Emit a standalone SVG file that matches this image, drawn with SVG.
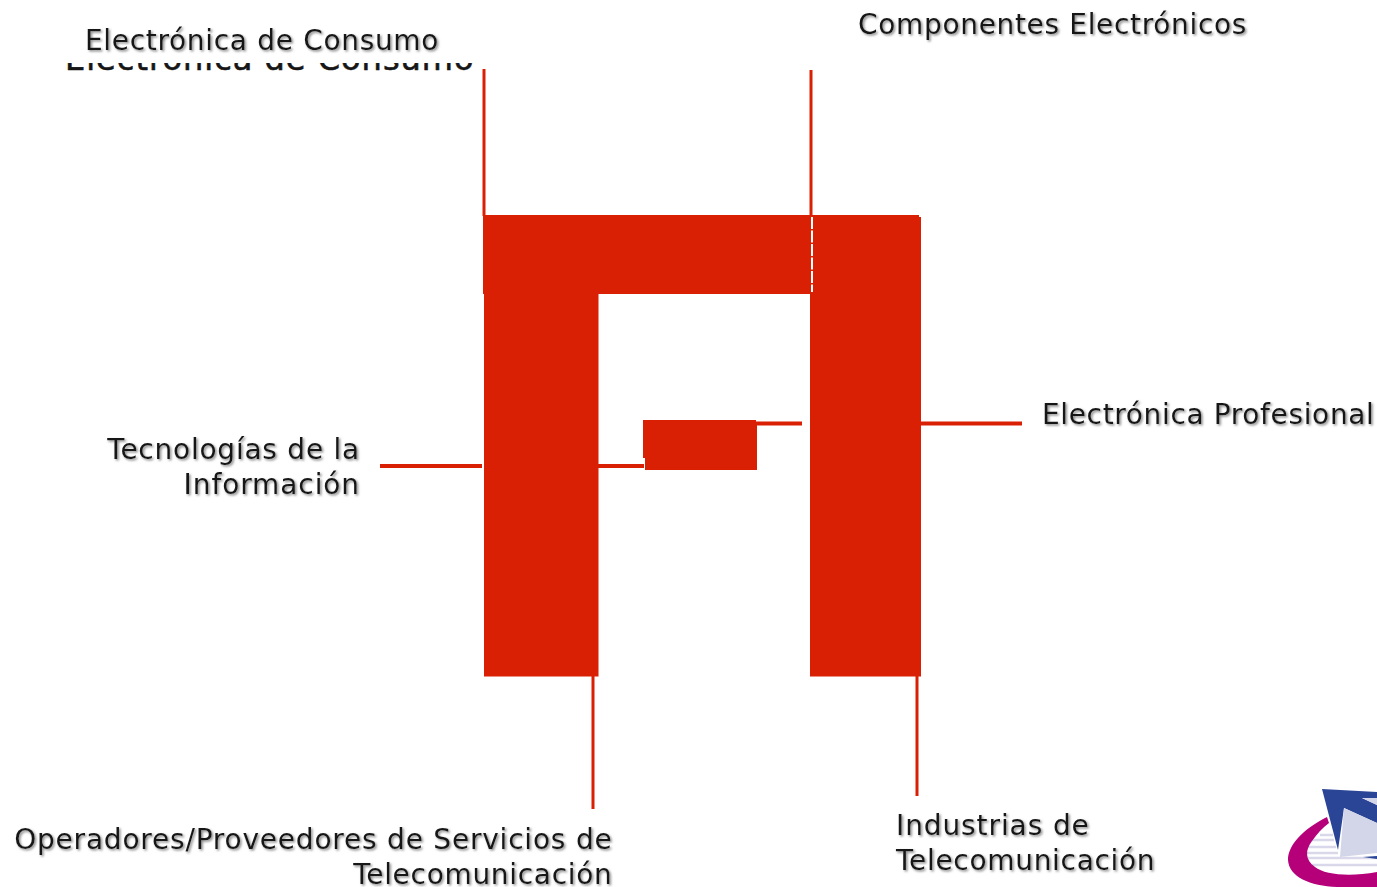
<svg xmlns="http://www.w3.org/2000/svg" width="1377" height="887" viewBox="0 0 1377 887">
<style>
.t{font-family:"DejaVu Sans",Verdana,sans-serif;font-size:28px;fill:#161616}
.e{text-anchor:end}
.r{fill:#d92004}
.l{stroke:#d92004;fill:none}
</style>
<defs>
<filter id="sh" x="-5%" y="-20%" width="110%" height="140%"><feDropShadow dx="1.5" dy="1.5" stdDeviation="0.8" flood-color="#888"/></filter>
<clipPath id="slice"><rect x="50" y="63" width="440" height="8"/></clipPath>
</defs>
<rect width="1377" height="887" fill="#fff"/>
<g id="connectors">
<path class="l" stroke-width="3" d="M484 69V216M811 70V216M593 676V809M917 676V796"/>
<path class="l" stroke-width="4" d="M380 466H482M598 466H644M756 423.500H802M921 423.500H1022"/>
</g>
<g id="block-frame">
<path class="r" d="M483 215H810V294H598.500V676.500H484V294H483Z"/>
<path class="r" d="M810 215H919V217H921V676.500H810Z"/>
<path d="M812 217V292" stroke="#fff" stroke-width="2" stroke-dasharray="12 1.500"/>
</g>
<g id="block-center">
<path class="r" d="M643 420H756V422H757V470H645V458H643Z"/>
</g>
<g id="label-consumo-cut">
<text class="t" clip-path="url(#slice)" x="65" y="70" style="font-size:32px;letter-spacing:1px;stroke:#161616;stroke-width:0.6px">Electrónica de Consumo</text>
</g>
<rect x="50" y="52" width="440" height="11" fill="#fff"/>
<g id="label-consumo" filter="url(#sh)">
<text class="t" x="85" y="50" style="letter-spacing:0.68px">Electrónica de Consumo</text>
</g>
<g id="label-componentes" filter="url(#sh)">
<text class="t" x="858" y="34" style="letter-spacing:0.67px">Componentes Electrónicos</text>
</g>
<g id="label-profesional" filter="url(#sh)">
<text class="t" x="1042" y="424" style="letter-spacing:0.64px">Electrónica Profesional</text>
</g>
<g id="label-tecnologias" filter="url(#sh)">
<text class="t e" x="360" y="459" style="letter-spacing:0.76px">Tecnologías de la</text>
<text class="t e" x="360" y="494" style="letter-spacing:0.9px">Información</text>
</g>
<g id="label-operadores" filter="url(#sh)">
<text class="t e" x="612.500" y="849" style="letter-spacing:0.79px">Operadores/Proveedores de Servicios de</text>
<text class="t e" x="612.500" y="884" style="letter-spacing:0.69px">Telecomunicación</text>
</g>
<g id="label-industrias" filter="url(#sh)">
<text class="t" x="896" y="835" style="letter-spacing:0.9px">Industrias de</text>
<text class="t" x="896" y="870" style="letter-spacing:0.69px">Telecomunicación</text>
</g>
<g id="logo">
<path d="M1320 835H1333M1312 840H1334M1308 847H1336M1306 853H1338M1308 858H1377M1312 865H1377" stroke="#d8d8ea" stroke-width="2.500" fill="none"/>
<path d="M1327 817C1303 829 1288 845 1288 860C1289 877 1310 886 1337 887H1377V872C1350 877 1325 875 1315 867C1305 860 1305 850 1312 841C1317 834 1322 828 1329 823Z" fill="#b5007a"/>
<path d="M1322 789L1377 792V798H1362L1377 805V823L1344 808L1338 850Z" fill="#2a4596"/>
<path d="M1344 808L1377 823V853L1340 857Z" fill="#d3d6e8"/>
<path d="M1362 798H1377V805Z" fill="#d3d6e8"/>
<path d="M1363 857L1377 856V859Z" fill="#2a4596"/>
</g>
</svg>
